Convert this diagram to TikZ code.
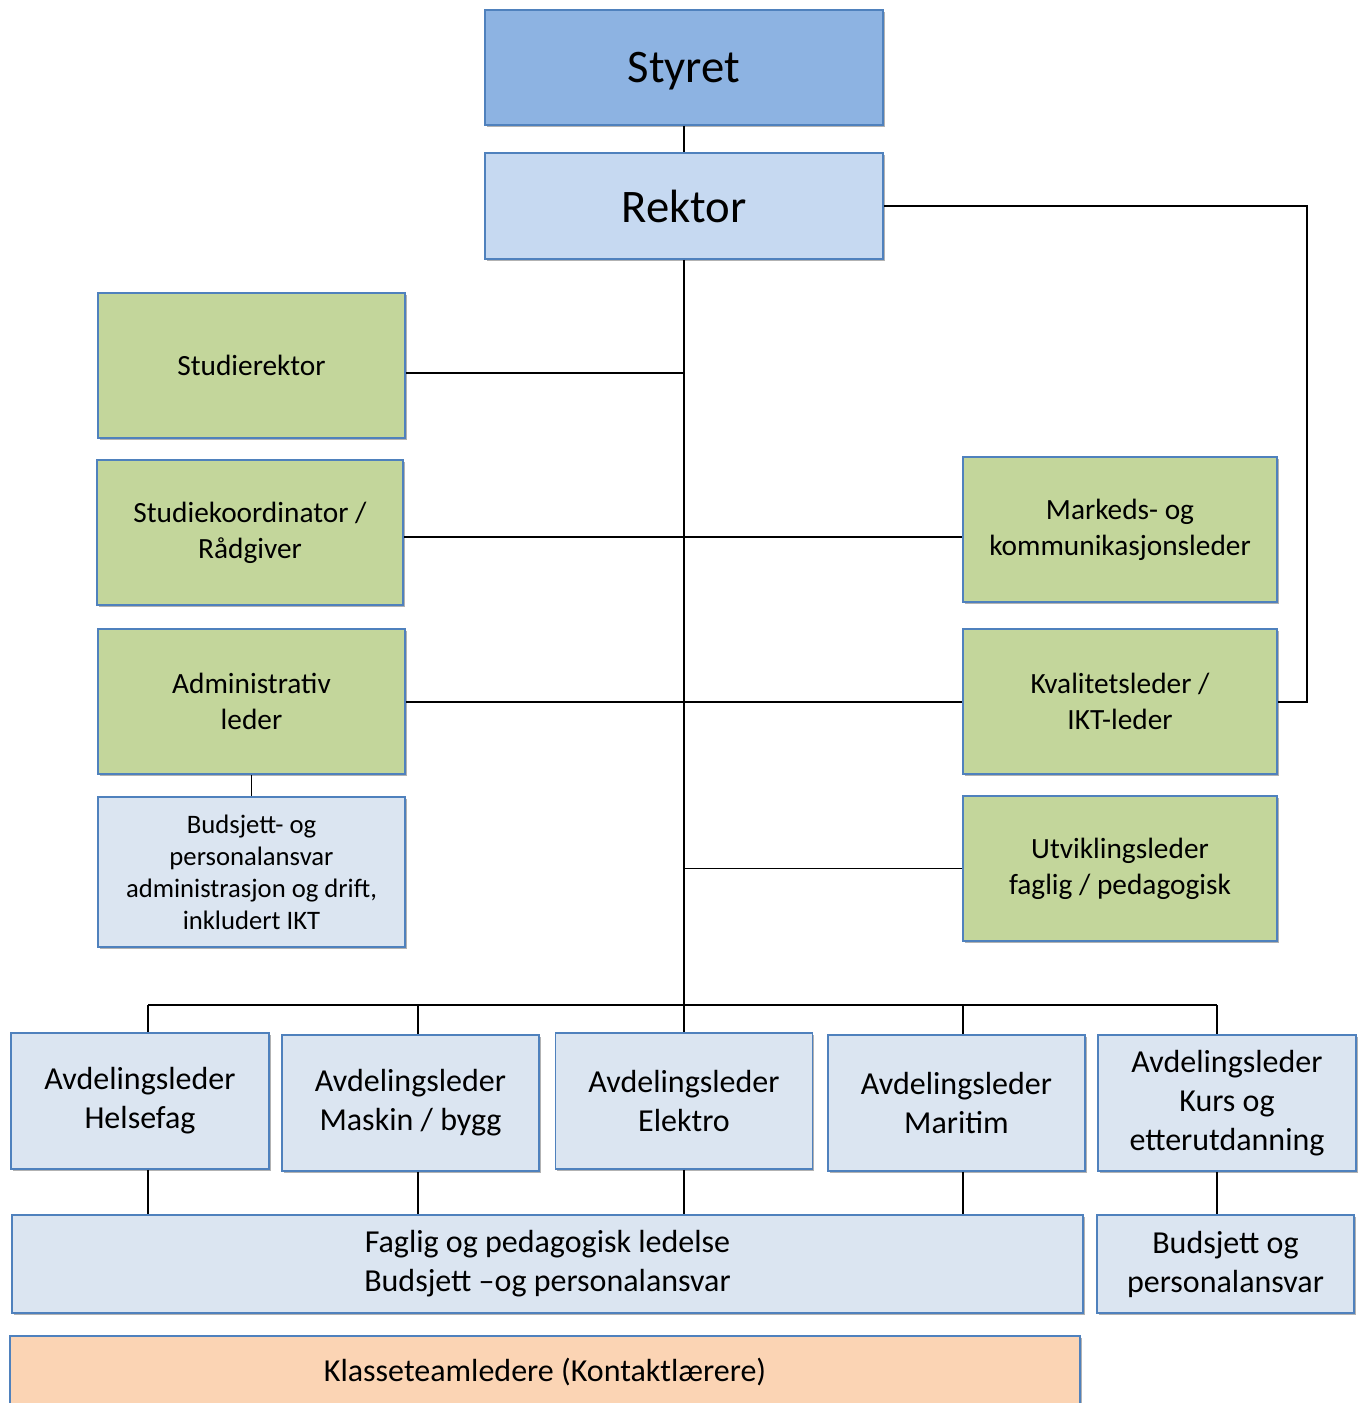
\documentclass[tikz,border=0pt]{standalone}
\usepackage{fontspec}
\setmainfont{Carlito}
\usetikzlibrary{shadows}
\definecolor{boardblue}{HTML}{8DB3E2}
\definecolor{headblue}{HTML}{C6D9F1}
\definecolor{paleblue}{HTML}{DBE5F1}
\definecolor{staffgreen}{HTML}{C3D69B}
\definecolor{peach}{HTML}{FBD4B4}
\definecolor{edgeblue}{HTML}{4F81BD}
\tikzset{
  x=0.75pt, y=-0.75pt,
  unit/.style={draw=edgeblue, line width=1.4pt, align=center, inner sep=2pt,
    drop shadow={shadow xshift=1.2pt, shadow yshift=-1.8pt, opacity=0.3, fill=black}},
  topbox/.style={unit, font=\fontsize{35}{42}\selectfont, text depth=0pt},
  greenbox/.style={unit, fill=staffgreen, font=\fontsize{22}{27}\selectfont},
  notebox/.style={unit, fill=paleblue, font=\fontsize{20}{24}\selectfont},
  deptbox/.style={unit, fill=paleblue, font=\fontsize{24}{29.25}\selectfont},
  link/.style={draw=black, line width=1.4pt},
}
\begin{document}
\begin{tikzpicture}
\useasboundingbox (0,0) rectangle (1362,1403);
\clip (0,0) rectangle (1362,1403);

% top of the hierarchy
\node[topbox, fill=boardblue, minimum width=398*0.75pt, minimum height=115*0.75pt] (styret) at (684,67.5) {Styret};
\node[topbox, fill=headblue, minimum width=398*0.75pt, minimum height=106*0.75pt] (rektor) at (684,206) {Rektor};

% staff functions, left column
\node[greenbox, minimum width=307*0.75pt, minimum height=145*0.75pt] (studrek) at (251.5,365.5) {Studierektor};
\node[greenbox, minimum width=306*0.75pt, minimum height=145*0.75pt] (studkoord) at (250,532.5) {Studiekoordinator /\\Rådgiver};
\node[greenbox, minimum width=307*0.75pt, minimum height=145*0.75pt] (adm) at (251.5,701.5) {Administrativ\\leder};
\node[notebox, minimum width=307*0.75pt, minimum height=150*0.75pt] (admnote) at (251.5,872) {Budsjett- og\\personalansvar\\administrasjon og drift,\\inkludert IKT};

% staff functions, right column
\node[greenbox, minimum width=314*0.75pt, minimum height=145*0.75pt] (marked) at (1120,529.5) {Markeds- og\\kommunikasjonsleder};
\node[greenbox, minimum width=314*0.75pt, minimum height=145*0.75pt] (kval) at (1120,701.5) {Kvalitetsleder /\\IKT-leder};
\node[greenbox, minimum width=314*0.75pt, minimum height=145*0.75pt] (utv) at (1120,868.5) {Utviklingsleder\\faglig / pedagogisk};

% department heads
\node[deptbox, minimum width=258*0.75pt, minimum height=136*0.75pt] (helse) at (140,1101) {Avdelingsleder\\Helsefag};
\node[deptbox, minimum width=257*0.75pt, minimum height=136*0.75pt] (maskin) at (410.5,1103) {Avdelingsleder\\Maskin / bygg};
\node[deptbox, minimum width=257*0.75pt, minimum height=136*0.75pt] (elektro) at (684,1101) {Avdelingsleder\\Elektro};
\node[deptbox, minimum width=257*0.75pt, minimum height=136*0.75pt] (maritim) at (956.5,1103) {Avdelingsleder\\Maritim};
\node[deptbox, minimum width=258*0.75pt, minimum height=136*0.75pt] (kurs) at (1227,1103) {Avdelingsleder\\Kurs og\\etterutdanning};

% responsibilities of the department heads
\node[deptbox, minimum width=1071*0.75pt, minimum height=98*0.75pt] (faglig) at (547.5,1264) {Faglig og pedagogisk ledelse\\Budsjett –og personalansvar};
\node[deptbox, minimum width=257*0.75pt, minimum height=98*0.75pt] (kursnote) at (1225.5,1264) {Budsjett og\\personalansvar};
\node[unit, fill=peach, font=\fontsize{24}{29}\selectfont, minimum width=1070*0.75pt, minimum height=72*0.75pt] (klasse) at (545,1372) {Klasseteamledere (Kontaktlærere)};

% tap points on the main trunk
\coordinate (t1) at (684,373);
\coordinate (t2) at (684,537);
\coordinate (t3) at (684,702);
\coordinate (loop) at (1307,206);

% drop points on the department bus
\coordinate (d1) at (148,1005);
\coordinate (d2) at (418,1005);
\coordinate (d4) at (963,1005);
\coordinate (d5) at (1217,1005);

% connectors
\draw[link] (styret.south) -- (rektor.north);
\draw[link] (rektor.east) -- (rektor.east -| loop) |- (t3 -| kval.east);
\draw[link] (rektor.south) -- (elektro.north);
\draw[link] (t1 -| studrek.east) -- (t1);
\draw[link] (t2 -| studkoord.east) -- (t2 -| marked.west);
\draw[link] (t3 -| adm.east) -- (t3 -| kval.west);
\draw[link] (utv.west) -- (utv.west -| rektor.south);
\draw[link] (adm.south) -- (admnote.north);
\draw[link] (d1) -- (d5);
\draw[link] (d1) -- (d1 |- helse.north);
\draw[link] (d2) -- (d2 |- maskin.north);
\draw[link] (d4) -- (d4 |- maritim.north);
\draw[link] (d5) -- (d5 |- kurs.north);
\draw[link] (d1 |- helse.south) -- (d1 |- faglig.north);
\draw[link] (d2 |- maskin.south) -- (d2 |- faglig.north);
\draw[link] (elektro.south) -- (elektro.south |- faglig.north);
\draw[link] (d4 |- maritim.south) -- (d4 |- faglig.north);
\draw[link] (d5 |- kurs.south) -- (d5 |- kursnote.north);
\end{tikzpicture}
\end{document}
